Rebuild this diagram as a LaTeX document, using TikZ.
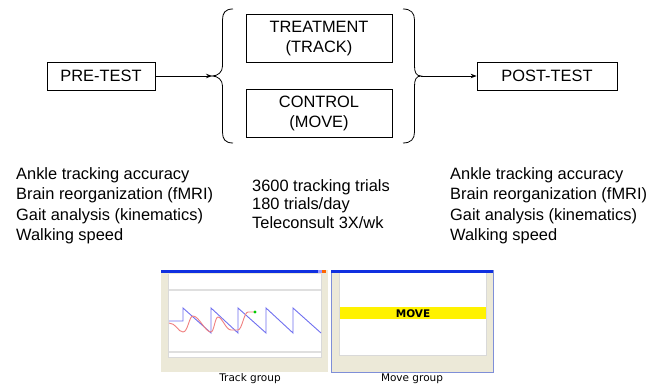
\documentclass[tikz,border=0pt]{standalone}
\usepackage{fontspec}
\setmainfont{Liberation Sans}
\newfontfamily\uifont{DejaVu Sans}
\usetikzlibrary{arrows.meta}
\definecolor{winbeige}{HTML}{ECE9D8}
\definecolor{titleblue}{HTML}{1030E0}
\definecolor{framblue}{HTML}{7F8FD8}
\definecolor{targetblue}{HTML}{7070F0}
\definecolor{traceRed}{HTML}{F08080}
\tikzset{
  stagebox/.style={draw, line width=0.8pt, minimum height=28pt, inner sep=0pt,
    font=\fontsize{16.4}{20}\selectfont, align=center},
  armbox/.style={draw, line width=0.8pt, minimum width=146pt, minimum height=48pt,
    inner sep=0pt, font=\fontsize{16.4}{20}\selectfont, align=center},
  flow/.style={line width=0.8pt, -{Stealth[length=6pt,width=4.5pt]}},
  bracepath/.style={line width=0.8pt},
  listtext/.style={anchor=north west, inner sep=0pt, align=left},
  caption/.style={font=\uifont\fontsize{10.5}{12}\selectfont, inner sep=0pt}
}
\begin{document}
\begin{tikzpicture}[x=1pt, y=-1pt]
\useasboundingbox (0,0) rectangle (667,387);

% study stages
\node[stagebox, minimum width=108pt] (pre) at (101,76) {PRE-TEST};
\node[armbox] (treat) at (319,38.5) {TREATMENT\\(TRACK)};
\node[armbox] (ctrl) at (319,113.5) {CONTROL\\(MOVE)};
\node[stagebox, minimum width=140pt] (post) at (547,76) {POST-TEST};

% braces grouping the two arms
\coordinate (lb) at (212,76);
\coordinate (rb) at (421,76);
\draw[bracepath] (233,9) .. controls (225,9) and (222.5,13) .. (222.5,20)
  -- (222.5,66) .. controls (222.5,72) and (218,76) .. (lb)
  .. controls (218,76) and (222.5,80) .. (222.5,86)
  -- (222.5,132) .. controls (222.5,139) and (225,143) .. (233,143);
\draw[bracepath] (403,9) .. controls (411,9) and (414.5,13) .. (414.5,20)
  -- (414.5,66) .. controls (414.5,72) and (416,76) .. (rb)
  .. controls (416,76) and (414.5,80) .. (414.5,86)
  -- (414.5,132) .. controls (414.5,139) and (411,143) .. (403,143);

\draw[flow] (pre.east) -- (lb);
\draw[flow] (rb) -- (post.west);

% outcome measures and training dose
\node[listtext, font=\fontsize{16.4}{20.5}\selectfont] (premeas) at (16,167)
  {Ankle tracking accuracy\\Brain reorganization (fMRI)\\Gait analysis (kinematics)\\Walking speed};
\node[listtext, font=\fontsize{16.4}{18.7}\selectfont] (dose) at (252,179)
  {3600 tracking trials\\180 trials/day\\Teleconsult 3X/wk};
\node[listtext, font=\fontsize{16.4}{20.5}\selectfont] (postmeas) at (450,167)
  {Ankle tracking accuracy\\Brain reorganization (fMRI)\\Gait analysis (kinematics)\\Walking speed};

% track task window
\fill[winbeige] (161,270) rectangle (328,372);
\fill[titleblue] (161,270) rectangle (326,273.5);
\fill[orange!80!red] (322,270) rectangle (326,273.5);
\fill[blue!40] (318,270) rectangle (321.5,273.5);
\fill[gray!30] (168,274) rectangle (322,358);
\fill[white] (169,274) rectangle (321,357);
\draw[gray!25, line width=1.2pt] (169,290) -- (321,290);
\draw[gray!25, line width=1.2pt] (169,352) -- (321,352);
\draw[targetblue, line width=0.9pt] (169,321) -- (183,321) -- (183,308)
  -- (211,333) -- (211,308) -- (238,333) -- (238,308) -- (266,333) -- (266,308)
  -- (293,333) -- (293,308) -- (321,333);
\draw[traceRed, line width=0.9pt] (169,323) .. controls (176,323) and (178,332) .. (183,332)
  .. controls (188,332) and (189,316) .. (193,316)
  .. controls (199,316) and (205,332) .. (211,332)
  .. controls (214,332) and (215,317) .. (218,317)
  .. controls (222,317) and (226,330) .. (231,330)
  -- (238,330) .. controls (242,330) and (244,312) .. (248,312) -- (255,312);
\fill[green!80!black] (255,312) circle (1.6);
\node[caption] (trackcap) at (250,379) {Track group};

% move task window
\fill[winbeige] (331,270) rectangle (493,372);
\draw[framblue, line width=0.8pt] (331,270) rectangle (493,372);
\fill[titleblue] (331,270) rectangle (493,273);
\fill[gray!30] (339,273) rectangle (487,356);
\fill[white] (340,273) rectangle (486,355);
\fill[yellow] (340,307) rectangle (486,319);
\node[font=\uifont\bfseries\fontsize{10.5}{12}\selectfont, inner sep=0pt] (movecue) at (413,313.5) {MOVE};
\node[caption] (movecap) at (412,379) {Move group};
\end{tikzpicture}
\end{document}
